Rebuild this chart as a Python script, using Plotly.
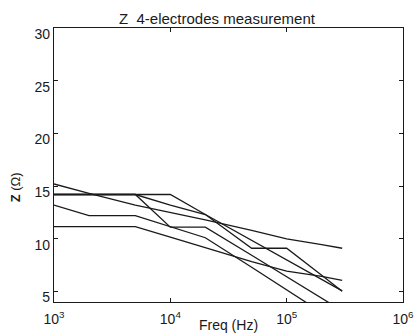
import plotly.graph_objects as go

freq = [1e3, 2e3, 5e3, 1e4, 2e4, 5e4, 1e5, 2e5, 3e5]

z_a = [15.2, 14.3, 13.2, 12.5, 11.8, 10.8, 10.0, 9.45, 9.1]
z_b = [14.2, 14.2, 14.2, 13.2, 12.3, 9.1, 9.1, 6.53, 5.03]
z_c = [14.2, 14.2, 14.2, 11.1, 11.1, 8.43, 6.4, 4.36, 3.17]
z_d = [14.2, 14.2, 14.2, 14.2, 12.3, 9.86, 8.0, 6.15, 5.05]
z_e = [13.2, 12.2, 12.2, 11.13, 10.1, 7.3, 5.15, 3.0, 1.75]
z_f = [11.15, 11.15, 11.15, 10.16, 9.16, 7.84, 6.93, 6.43, 6.05]

series = [z_a, z_b, z_c, z_d, z_e, z_f]

x_tickvals = [1e3, 1e4, 1e5, 1e6]
x_ticktext = ["10<sup>3</sup>", "10<sup>4</sup>", "10<sup>5</sup>", "10<sup>6</sup>"]
y_tickvals = [5, 10, 15, 20, 25, 30]

fig = go.Figure()
for s in series:
    fig.add_trace(go.Scatter(x=freq, y=s, mode="lines",
                             line=dict(color="#1a1a1a", width=1.3),
                             showlegend=False, hoverinfo="skip"))

font_family = "Liberation Sans, Arial, sans-serif"

fig.update_layout(
    width=420, height=333,
    margin=dict(l=54, r=17, t=28, b=31, autoexpand=False),
    paper_bgcolor="white", plot_bgcolor="white",
    font=dict(family=font_family, color="#1a1a1a", size=14),
    title=dict(text="Z  4-electrodes measurement", x=0.467, xref="paper",
               xanchor="center", y=0.945, yanchor="middle",
               font=dict(size=15, family=font_family)),
)

fig.update_xaxes(
    type="log", range=[3, 6], automargin=False,
    tickvals=x_tickvals, ticktext=x_ticktext,
    showgrid=False, zeroline=False,
    showline=True, linecolor="#1a1a1a", linewidth=1.3, mirror="ticks",
    ticks="inside", ticklen=4, tickcolor="#1a1a1a", tickwidth=1,
    tickfont=dict(size=14), ticklabelstandoff=4,
    title=dict(text="Freq (Hz)", standoff=0, font=dict(size=14)),
)
fig.update_yaxes(
    range=[4, 30], automargin=False,
    tickvals=y_tickvals,
    showgrid=False, zeroline=False,
    showline=True, linecolor="#1a1a1a", linewidth=1.3, mirror="ticks",
    ticks="inside", ticklen=4, tickcolor="#1a1a1a", tickwidth=1,
    tickfont=dict(size=14), ticklabelshift=6,
)

fig.add_annotation(text="<b>Z</b> (Ω)", xref="paper", yref="paper",
                   x=-0.135, y=0.42, textangle=-90, showarrow=False,
                   font=dict(size=13, family=font_family))

fig.write_html("out.html")
